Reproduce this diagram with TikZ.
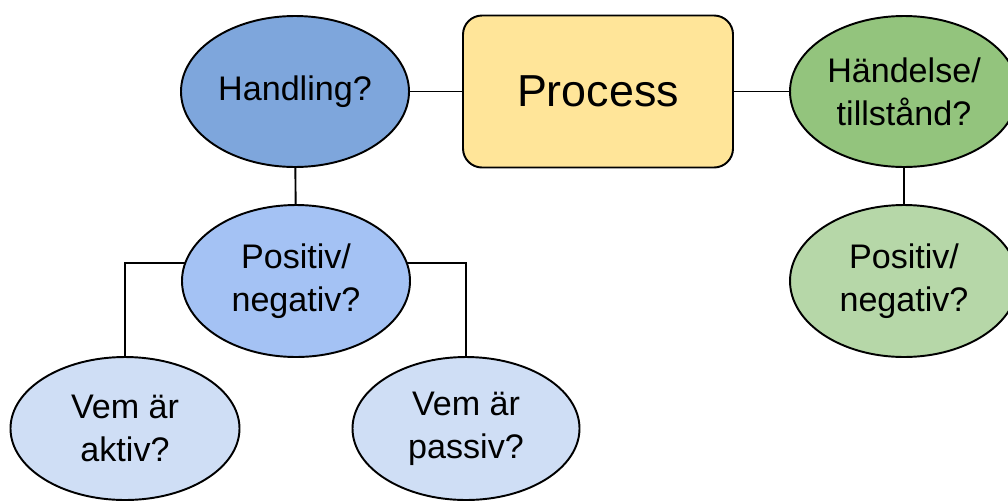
\documentclass[tikz,border=0pt]{standalone}
\usepackage{xcolor}
\usepackage{fontspec}
\setmainfont{Liberation Sans}
\usepackage{tikz}
\usetikzlibrary{shapes.geometric, positioning, backgrounds}
\definecolor{handlingblue}{HTML}{7EA6DC}
\definecolor{posblue}{HTML}{A4C2F4}
\definecolor{vemblue}{HTML}{CFDEF5}
\definecolor{processyellow}{HTML}{FFE599}
\definecolor{eventgreen}{HTML}{93C47D}
\definecolor{posgreen}{HTML}{B6D7A8}
\tikzset{question/.style={ellipse, draw=black, line width=1.1pt, minimum width=4.56cm, minimum height=3.02cm, inner sep=0pt, align=center, font=\fontsize{19.4}{24.5}\selectfont},
%yellow box in the middle
processbox/.style={rectangle, rounded corners=0.38cm, draw=black, line width=1.1pt, minimum width=5.4cm, minimum height=3.04cm, font=\fontsize{25.5}{30}\selectfont},
link/.style={line width=1.1pt}}

\begin{document}
\begin{tikzpicture}
 \useasboundingbox (0,0) rectangle (20.16,-10.04);
 %Drawing Top Row
 \node[processbox, fill=processyellow] (process) at (11.96,-1.83) {Process};
 \node[question, fill=handlingblue] (handling) at (5.9,-1.83) {Handling?};
 \node[question, fill=eventgreen] (event) at (18.08,-1.83) {Händelse/\\tillstånd?};

 %Drawing Second Row
 \node[question, fill=posblue, minimum height=3.04cm] (posneg) at (5.92,-5.62) {Positiv/\\negativ?};
 \node[question, fill=posgreen, minimum height=3.04cm] (posnegevent) at (18.08,-5.62) {Positiv/\\negativ?};

 %Drawing Bottom Row
 \node[question, fill=vemblue, minimum width=4.58cm, minimum height=2.86cm] (active) at (2.5,-8.57) {Vem är\\aktiv?};
 \node[question, fill=vemblue, minimum width=4.54cm, minimum height=2.86cm] (passive) at (9.32,-8.57) {Vem är\\passiv?};

 %Drawing lines
 \draw[link] (handling) -- (process);
 \draw[link] (process) -- (event);
 \draw[link] (handling) -- (posneg);
 \draw[link] (event) -- (posnegevent);
 \begin{scope}[on background layer]
  \draw[link] (active.north) |- ([yshift=0.36cm]posneg.center);
  \draw[link] (passive.north) |- ([yshift=0.36cm]posneg.center);
 \end{scope}

\end{tikzpicture}
\end{document}
